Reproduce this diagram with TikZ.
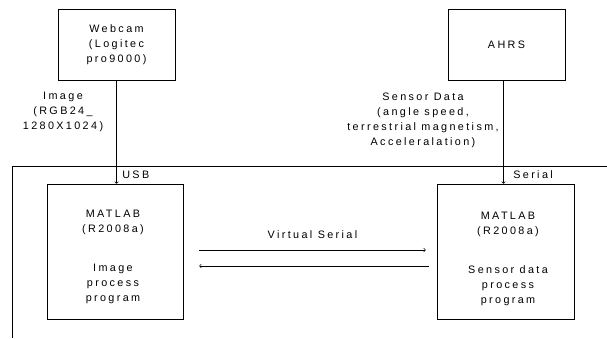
\documentclass[tikz,border=0pt]{standalone}
\usepackage{fontspec}
\setmainfont[LetterSpace=22]{Liberation Sans}
\usetikzlibrary{positioning}

\begin{document}
\begin{tikzpicture}[x=1pt, y=-1pt, ->, semithick, font=\fontsize{10.8}{15}\selectfont,
box/.style = {draw, rectangle, align=center, inner sep=0pt},
txt/.style = {align=center, inner sep=0pt}]
    \useasboundingbox (0,0) rectangle (607,338);

    \node[box, minimum width=117pt, minimum height=71pt] (web) at (116.5,44.5) {Webcam\\(Logitec\\pro9000)};
    \node[box, minimum width=117pt, minimum height=71pt] (ahrs) at (506.5,45) {AHRS};
    \node[box, minimum width=136pt, minimum height=135pt] (matL) at (115,251.5) {};
    \node[box, minimum width=137pt, minimum height=135pt] (matR) at (505.5,251.5) {};

    \node[txt] (matLtxt) at (113,257) {MATLAB\\(R2008a)\\[24pt]Image\\process\\program};
    \node[txt] (matRtxt) at (508,259) {MATLAB\\(R2008a)\\[24pt]Sensor data\\process\\program};

    % frame around the PC
    \coordinate (fbl) at (12,338);
    \coordinate (ftl) at (12,166);
    \coordinate (ftr) at (607,166);
    \draw[-] (fbl) -- (ftl) -- (ftr);

    % inputs
    \draw (web.south) -- (web.south |- matL.north);
    \draw ([xshift=-3pt]ahrs.south) -- ([xshift=-3pt]ahrs.south |- matR.north);
    \node[txt] (img) at (63,112) {Image\\(RGB24\_\\1280X1024)};
    \node[txt] (sens) at (423,120) {Sensor Data\\(angle speed,\\terrestrial magnetism,\\Acceleralation)};
    \node[txt, anchor=west] (usb) at (122,175) {USB};
    \node[txt, anchor=west] (ser) at (513,175) {Serial};

    % virtual serial link
    \coordinate (a1) at ([xshift=16pt]matL.east |- 0,250);
    \coordinate (a2) at ([xshift=-11pt]matR.west |- 0,250);
    \coordinate (b1) at ([xshift=-8pt]matR.west |- 0,266);
    \coordinate (b2) at ([xshift=16pt]matL.east |- 0,266);
    \draw (a1) -- node[above=11pt, txt] (vs) {Virtual Serial} (a2);
    \draw (b1) -- (b2);
\end{tikzpicture}
\end{document}
